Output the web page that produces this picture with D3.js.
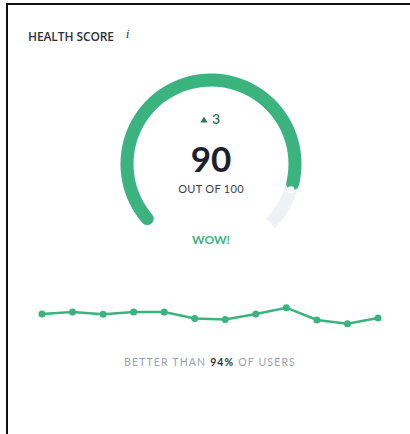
<!DOCTYPE html>
<html><head><meta charset="utf-8">
<script src="https://cdn.jsdelivr.net/npm/d3@7"></script>
<style>
html,body{margin:0;padding:0;background:#fff;}
svg{display:block;font-family:Lato, "Open Sans", sans-serif;}
</style></head>
<body><svg id="c" width="410" height="434"></svg>
<script>
const title = "HEALTH SCORE";
const score = 90;
const scoreMax = 100;
const delta = 3;
const rating = "WOW!";
const percentile = 94;
const historyLabels = ["1","2","3","4","5","6","7","8","9","10","11","12"];
const historyValues = [87.1, 88, 87, 88, 88, 85, 84.5, 87.1, 90, 84.3, 82.6, 85.2];

const green = "#3bb37f";
const svg = d3.select("#c");

// card frame
svg.append("path").attr("d","M7,434 V4 H410").attr("fill","none").attr("stroke","#111").attr("stroke-width",2);

svg.append("text").attr("x",28).attr("y",41).attr("font-size",12).attr("font-weight",600)
  .attr("font-family","'Open Sans', sans-serif").attr("letter-spacing",-0.1)
  .attr("fill","#2b3340").text(title);
svg.append("text").attr("x",126).attr("y",38).attr("font-size",11).attr("font-style","italic")
  .attr("fill","#2b3340").attr("font-family","'DejaVu Serif', serif").text("i");

// gauge
const cx = 211, cy = 164, r = 84, w = 13;
const ang = d3.scaleLinear().domain([0, scoreMax]).range([-3*Math.PI/4, 3*Math.PI/4]);
const g = svg.append("g").attr("transform",`translate(${cx},${cy})`);
const arc = d3.arc().innerRadius(r - w/2).outerRadius(r + w/2).cornerRadius(0);
g.append("path").attr("d", arc({startAngle: ang(0), endAngle: ang(scoreMax)})).attr("fill","#eff1f6");
const arcR = d3.arc().innerRadius(r - w/2).outerRadius(r + w/2).cornerRadius(w/2);
g.append("path").attr("d", arcR({startAngle: ang(0), endAngle: ang(score)})).attr("fill", green);
const ea = ang(score);
g.append("circle").attr("cx", r*Math.sin(ea)).attr("cy", -r*Math.cos(ea)).attr("r",3.6)
  .attr("fill","#fff");

// center texts
g.append("path").attr("d", d3.symbol().type(d3.symbolTriangle).size(22)())
  .attr("transform","translate(-7,-43.5)").attr("fill","#2a7a55");
g.append("text").attr("x",1).attr("y",-40).attr("font-size",14).attr("font-weight",600)
  .attr("fill","#2a6f52").text(delta);
g.append("text").attr("x",0).attr("y",8).attr("text-anchor","middle").attr("font-size",35)
  .attr("font-weight",700).attr("fill","#1b2130").text(score);
g.append("text").attr("x",0).attr("y",29).attr("text-anchor","middle").attr("font-size",11)
  .attr("letter-spacing",0.3).attr("fill","#3a4152").text("OUT OF " + scoreMax);
g.append("text").attr("x",0).attr("y",80).attr("text-anchor","middle").attr("font-size",12)
  .attr("font-weight",700).attr("fill", green).text(rating);

// sparkline
const x = d3.scalePoint().domain(historyLabels).range([42, 378]);
const y = d3.scaleLinear().domain([80, 95]).range([329.3, 296.9]);
const pts = historyLabels.map((l,i)=>[x(l), y(historyValues[i])]);
svg.append("path").attr("d", d3.line()(pts)).attr("fill","none").attr("stroke",green).attr("stroke-width",2.5);
svg.selectAll("circle.pt").data(pts).join("circle").attr("class","pt")
  .attr("cx",d=>d[0]).attr("cy",d=>d[1]).attr("r",3.5).attr("fill",green);

const t = svg.append("text").attr("x",210).attr("y",366).attr("text-anchor","middle")
  .attr("font-size",10.5).attr("letter-spacing",1.15).attr("fill","#9aa2ad");
t.append("tspan").text("BETTER THAN ");
t.append("tspan").attr("font-weight",700).attr("fill","#2b3340").text(percentile + "%");
t.append("tspan").text(" OF USERS");
</script></body></html>
